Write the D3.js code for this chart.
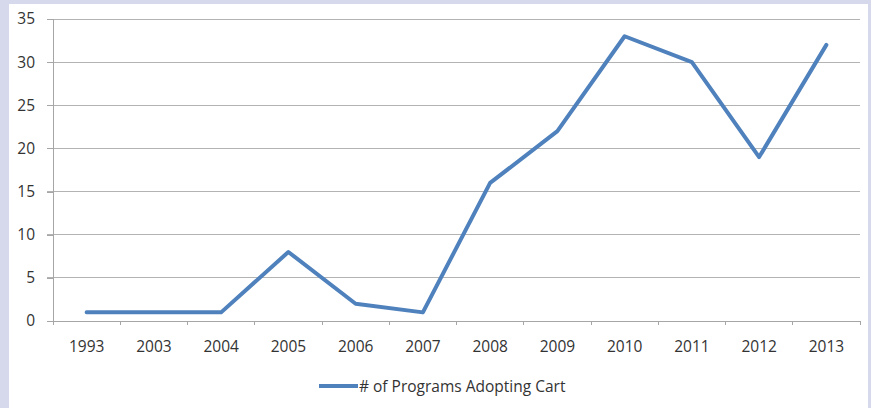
<!DOCTYPE html>
<html><head><meta charset="utf-8">
<script src="https://cdn.jsdelivr.net/npm/d3@7"></script>
<style>body{margin:0;background:#d6d9eb;}svg{display:block;}</style>
</head><body>
<svg id="c" width="871" height="408"></svg>
<script>
const categories = ["1993","2003","2004","2005","2006","2007","2008","2009","2010","2011","2012","2013"];
const values = [1,1,1,8,2,1,16,22,33,30,19,32];
const yTicks = [0,5,10,15,20,25,30,35];
const seriesName = "# of Programs Adopting Cart";

(function(){
const svg = d3.select("#c");
svg.append("rect").attr("x",9).attr("y",4).attr("width",859).attr("height",404).attr("fill","#fff");

const mLeft=53, mRight=860, mTop=19, mBottom=321;
const x = d3.scaleBand().domain(categories).range([mLeft,mRight]);
const y = d3.scaleLinear().domain([0,35]).range([mBottom,mTop]);
const font = "'Open Sans', sans-serif";
const fs = 15.5;

// gridlines
svg.append("g").selectAll("line").data(yTicks.filter(d=>d>0)).join("line")
  .attr("x1",mLeft-6).attr("x2",mRight).attr("y1",d=>y(d)).attr("y2",d=>y(d))
  .attr("stroke","#b3b3b3").attr("stroke-width",1).attr("shape-rendering","crispEdges");

// y axis
const ya = svg.append("g").attr("transform",`translate(${mLeft},0)`)
  .call(d3.axisLeft(y).tickValues(yTicks).tickSize(6).tickPadding(12));
ya.select(".domain").attr("stroke","#a6a6a6").attr("shape-rendering","crispEdges");
ya.selectAll(".tick line").attr("stroke","#a6a6a6").attr("shape-rendering","crispEdges");
ya.selectAll("text").attr("font-family",font).attr("font-size",fs).attr("fill","#333");

// x axis
const xa = svg.append("g").attr("transform",`translate(0,${mBottom})`)
  .call(d3.axisBottom(x).tickSize(0).tickPadding(20));
xa.select(".domain").attr("stroke","#a6a6a6").attr("shape-rendering","crispEdges");
xa.selectAll("text").attr("font-family",font).attr("font-size",fs).attr("fill","#333");
const bounds = categories.map(c=>x(c)).concat([mRight]);
xa.append("g").selectAll("line").data(bounds).join("line")
  .attr("x1",d=>d).attr("x2",d=>d).attr("y1",0).attr("y2",4)
  .attr("stroke","#a6a6a6").attr("shape-rendering","crispEdges");

// line
const line = d3.line().x((d,i)=>x(categories[i])+x.bandwidth()/2).y(d=>y(d));
svg.append("path").datum(values).attr("d",line).attr("fill","none")
  .attr("stroke","#4f81bd").attr("stroke-width",4).attr("stroke-linejoin","round").attr("stroke-linecap","round");

// legend
const lg = svg.append("g").attr("transform","translate(319,386)");
lg.append("line").attr("x1",0).attr("x2",39).attr("y1",0).attr("y2",0)
  .attr("stroke","#4f81bd").attr("stroke-width",4);
lg.append("text").attr("x",40).attr("y",5.5).text(seriesName)
  .attr("font-family",font).attr("font-size",fs).attr("fill","#333");
})();
</script>
</body></html>
